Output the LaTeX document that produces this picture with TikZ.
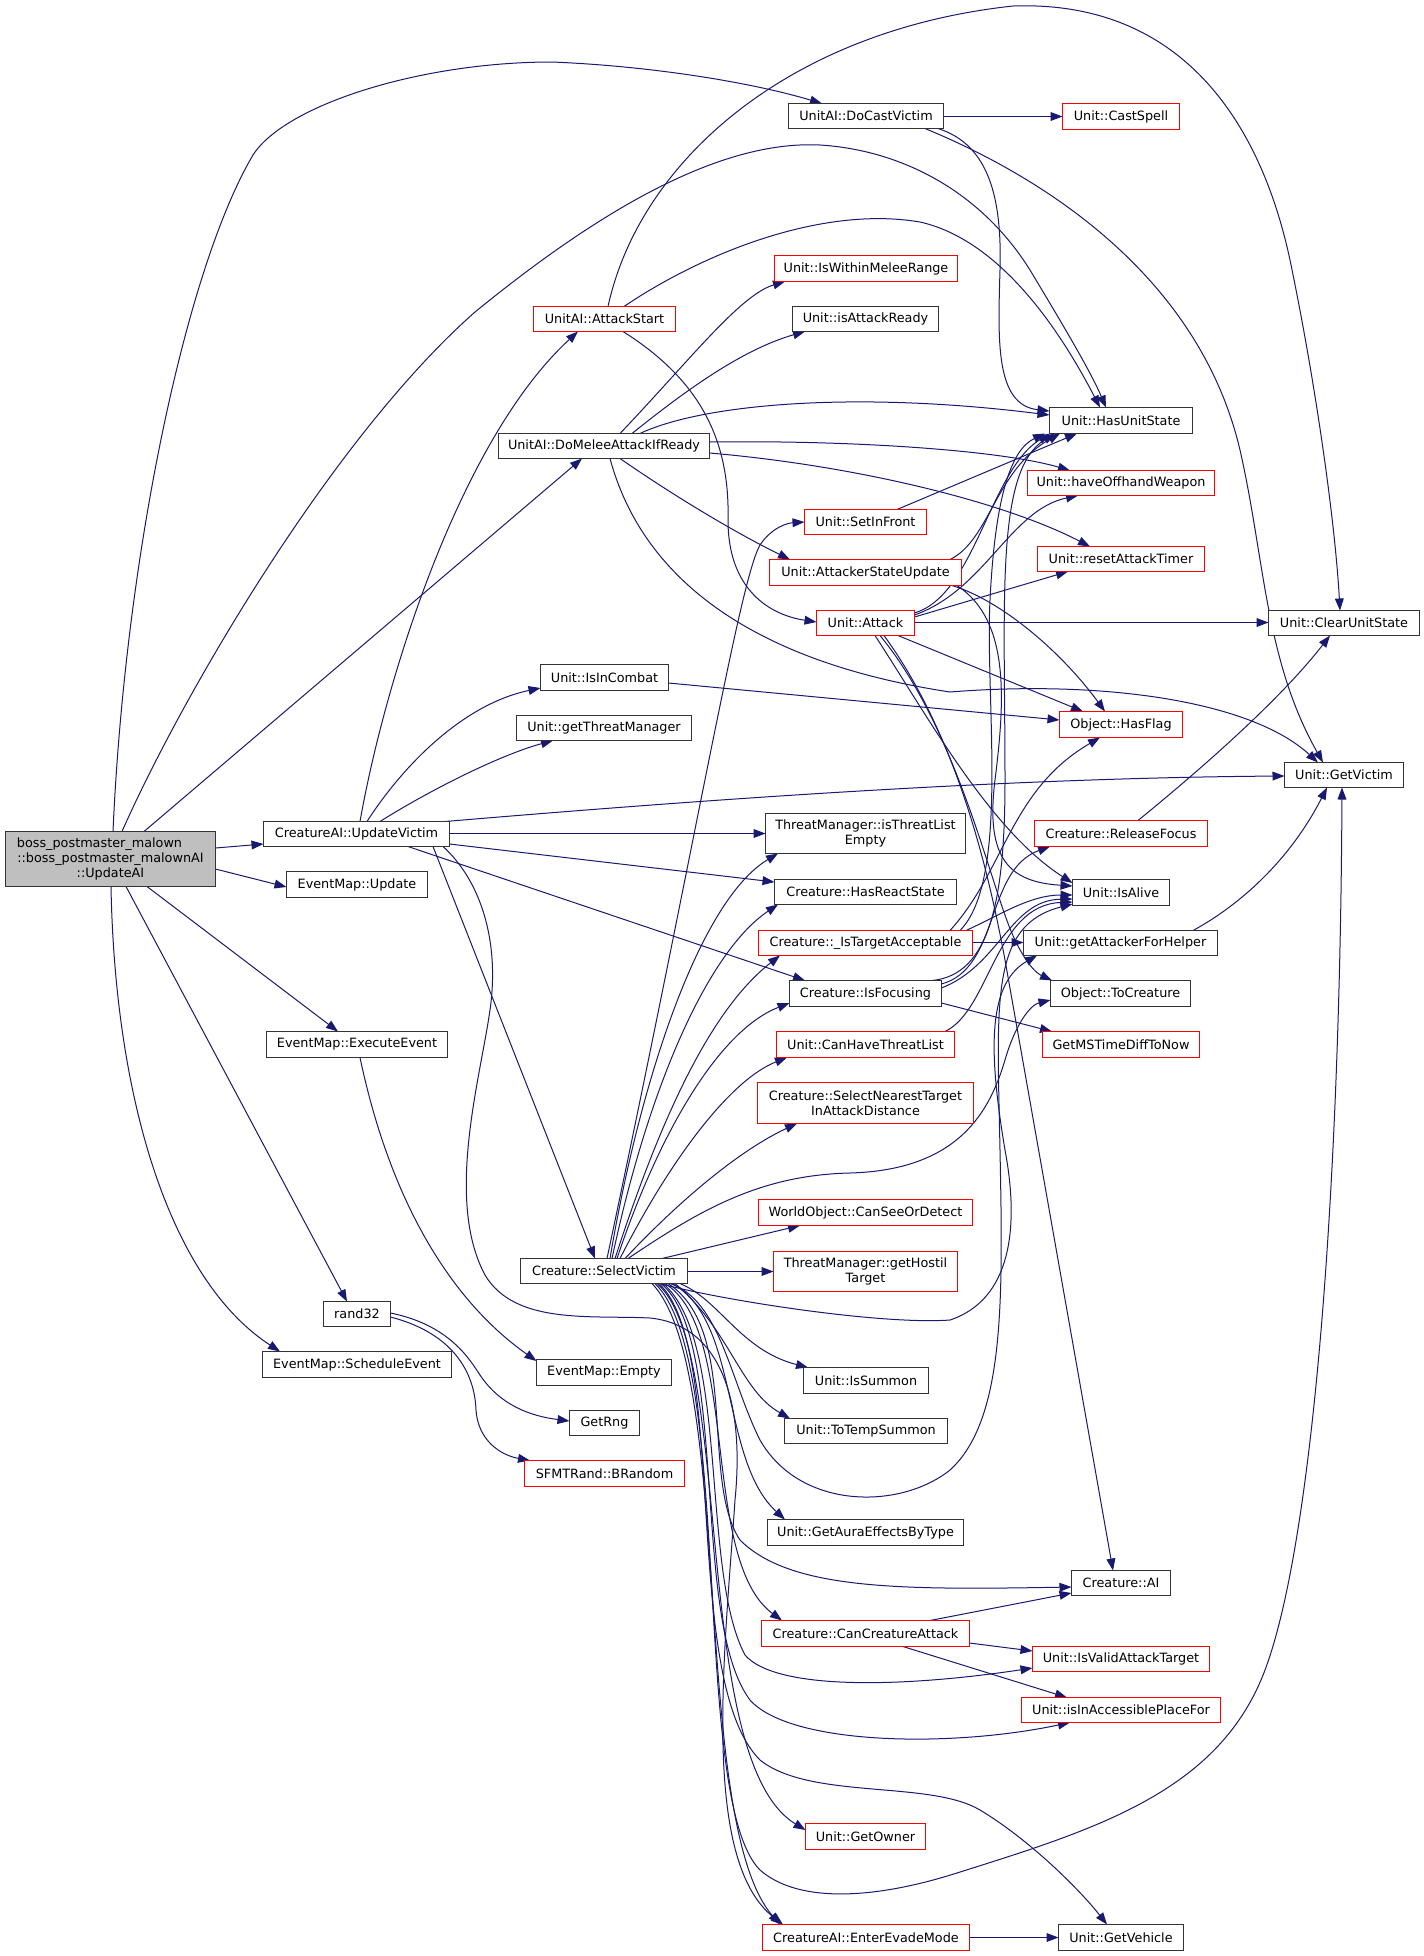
\documentclass[tikz,border=0pt]{standalone}
\usepackage{fontspec}
\newfontfamily\dvs{DejaVu Sans}
\usetikzlibrary{arrows.meta}
\definecolor{edgeblue}{HTML}{191970}
\definecolor{nodeblk}{HTML}{333333}
\definecolor{nodered}{HTML}{FF0000}
\definecolor{mainfill}{HTML}{BFBFBF}
\pgfdeclarelayer{bglayer}
\pgfdeclarelayer{edgelayer}
\pgfsetlayers{bglayer,edgelayer,main}
\tikzset{
  nbox/.style={rectangle, draw, inner sep=0pt, outer sep=0pt, line width=0.55pt, fill=white, align=center, text=black, font={\dvs\fontsize{6.4pt}{7.5pt}\selectfont}},
  blk/.style={nbox, draw=nodeblk},
  trunc/.style={nbox, draw=nodered},
  mainbox/.style={nbox, draw=nodeblk, fill=mainfill},
  conn/.style={draw=edgeblue, line width=0.5pt, -{Triangle[length=6pt,width=4.4pt]}},
}
\newcommand{\mkbox}[7]{\node[#6, minimum width={(#4-#2)*0.5pt}, minimum height={(#5-#3)*0.5pt}] (#1) at ({(#2+#4)/2+0.5},{(#3+#5)/2+0.5}) {#7};}
\begin{document}
\begin{tikzpicture}[x=0.5pt,y=-0.5pt]
\begin{pgfonlayer}{bglayer}
\fill[white] (0,0) rectangle (1424,1956);
\end{pgfonlayer}
\useasboundingbox (0,0) rectangle (1424,1956);
% nodes
\mkbox{main}{5}{831}{215}{886}{mainbox}{boss\_postmaster\_malown\hspace*{11pt}\\::boss\_postmaster\_malownAI\\::UpdateAI}
\mkbox{dcv}{788}{103}{943}{128}{blk}{UnitAI::DoCastVictim}
\mkbox{cast}{1062}{103}{1179}{129}{trunc}{Unit::CastSpell}
\mkbox{ast}{533}{306}{675}{331}{trunc}{UnitAI::AttackStart}
\mkbox{wmr}{774}{255}{957}{281}{trunc}{Unit::IsWithinMeleeRange}
\mkbox{iar}{792}{306}{938}{331}{blk}{Unit::isAttackReady}
\mkbox{hus}{1049}{407}{1192}{433}{blk}{Unit::HasUnitState}
\mkbox{dmar}{498}{433}{709}{458}{blk}{UnitAI::DoMeleeAttackIfReady}
\mkbox{how}{1027}{470}{1214}{495}{trunc}{Unit::haveOffhandWeapon}
\mkbox{sif}{804}{509}{926}{534}{trunc}{Unit::SetInFront}
\mkbox{rat}{1037}{546}{1204}{571}{trunc}{Unit::resetAttackTimer}
\mkbox{asu}{769}{559}{961}{585}{trunc}{Unit::AttackerStateUpdate}
\mkbox{att}{816}{610}{914}{635}{trunc}{Unit::Attack}
\mkbox{cus}{1268}{610}{1419}{635}{blk}{Unit::ClearUnitState}
\mkbox{iic}{540}{664}{668}{690}{blk}{Unit::IsInCombat}
\mkbox{gtm}{516}{715}{691}{740}{blk}{Unit::getThreatManager}
\mkbox{hfl}{1059}{711}{1182}{737}{trunc}{Object::HasFlag}
\mkbox{gvi}{1284}{762}{1403}{787}{blk}{Unit::GetVictim}
\mkbox{uv}{263}{821}{449}{846}{blk}{CreatureAI::UpdateVictim}
\mkbox{rf}{1034}{820}{1207}{846}{trunc}{Creature::ReleaseFocus}
\mkbox{tle}{765}{813}{965}{853}{blk}{ThreatManager::isThreatList\\Empty}
\mkbox{eu}{286}{871}{427}{897}{blk}{EventMap::Update}
\mkbox{hrs}{774}{879}{956}{904}{blk}{Creature::HasReactState}
\mkbox{ial}{1072}{879}{1169}{905}{blk}{Unit::IsAlive}
\mkbox{ita}{758}{930}{972}{955}{trunc}{Creature::\_IsTargetAcceptable}
\mkbox{afh}{1023}{930}{1217}{955}{blk}{Unit::getAttackerForHelper}
\mkbox{ifo}{789}{980}{941}{1006}{blk}{Creature::IsFocusing}
\mkbox{toc}{1050}{980}{1190}{1006}{blk}{Object::ToCreature}
\mkbox{ee}{266}{1031}{447}{1057}{blk}{EventMap::ExecuteEvent}
\mkbox{chtl}{776}{1031}{954}{1057}{trunc}{Unit::CanHaveThreatList}
\mkbox{gms}{1042}{1031}{1199}{1057}{trunc}{GetMSTimeDiffToNow}
\mkbox{snt}{757}{1082}{973}{1123}{trunc}{Creature::SelectNearestTarget\\InAttackDistance}
\mkbox{csd}{758}{1199}{972}{1225}{trunc}{WorldObject::CanSeeOrDetect}
\mkbox{sv}{520}{1258}{687}{1283}{blk}{Creature::SelectVictim}
\mkbox{ght}{773}{1251}{957}{1291}{trunc}{ThreatManager::getHostil\\Target}
\mkbox{r32}{323}{1301}{390}{1326}{blk}{rand32}
\mkbox{sch}{262}{1351}{451}{1377}{blk}{EventMap::ScheduleEvent}
\mkbox{emp}{536}{1359}{671}{1385}{blk}{EventMap::Empty}
\mkbox{isu}{803}{1367}{928}{1393}{blk}{Unit::IsSummon}
\mkbox{grng}{569}{1410}{639}{1435}{blk}{GetRng}
\mkbox{tts}{784}{1418}{947}{1443}{blk}{Unit::ToTempSummon}
\mkbox{sfmt}{524}{1460}{684}{1486}{trunc}{SFMTRand::BRandom}
\mkbox{gae}{767}{1519}{963}{1545}{blk}{Unit::GetAuraEffectsByType}
\mkbox{cai}{1071}{1570}{1170}{1595}{blk}{Creature::AI}
\mkbox{cca}{761}{1620}{969}{1646}{trunc}{Creature::CanCreatureAttack}
\mkbox{ivat}{1032}{1646}{1209}{1671}{trunc}{Unit::IsValidAttackTarget}
\mkbox{iapf}{1021}{1697}{1220}{1722}{trunc}{Unit::isInAccessiblePlaceFor}
\mkbox{gow}{805}{1823}{925}{1849}{trunc}{Unit::GetOwner}
\mkbox{eem}{762}{1924}{969}{1950}{trunc}{CreatureAI::EnterEvadeMode}
\mkbox{gveh}{1058}{1924}{1183}{1950}{blk}{Unit::GetVehicle}
% edges
\begin{pgfonlayer}{edgelayer}
% main
\draw[conn] (main.north -| 113,0) .. controls (125,560) and (185,270) .. (253,155) .. controls (285,105) and (420,62) .. (552,62) .. controls (650,66) and (750,82) .. (dcv.north -| 822,0);
\draw[conn] (main.north -| 122,0) .. controls (180,700) and (330,440) .. (475,312) .. controls (600,210) and (720,140) .. (820,145) .. controls (900,150) and (980,190) .. (1030,270) .. controls (1060,320) and (1090,370) .. (hus.north -| 1106,0);
\draw[conn] (main.north -| 144,0) -- (dmar.south -| 582,0);
\draw[conn] (main.east |- 0,848) -- (uv.west |- 0,844);
\draw[conn] (main.east |- 0,869) -- (eu.west |- 0,887);
\draw[conn] (main.south -| 147,0) -- (ee.north -| 338,0);
\draw[conn] (main.south -| 126,0) -- (r32.north -| 347,0);
\draw[conn] (main.south -| 111,0) .. controls (115,1100) and (170,1280) .. (sch.north -| 280,0);
% UpdateVictim
\draw[conn] (uv.north -| 360,0) .. controls (385,680) and (460,440) .. (ast.south -| 578,0);
\draw[conn] (uv.north -| 367,0) .. controls (400,770) and (460,705) .. (iic.west |- 0,688);
\draw[conn] (uv.north -| 380,0) .. controls (430,790) and (500,755) .. (gtm.south -| 553,0);
\draw[conn] (uv.north -| 445,0) .. controls (700,800) and (1000,778) .. (gvi.west |- 0,776);
\draw[conn] (uv.east |- 0,833.5) -- (tle.west |- 0,833.5);
\draw[conn] (uv.east |- 0,844) -- (hrs.west |- 0,882);
\draw[conn] (uv.south -| 408,0) -- (ifo.north -| 805,0);
\draw[conn] (uv.south -| 433,0) -- (sv.north -| 595,0);
\draw[conn] (uv.south -| 443,0) .. controls (480,880) and (500,940) .. (490,1010) .. controls (480,1080) and (445,1200) .. (485,1275) .. controls (515,1325) and (590,1315) .. (650,1318) .. controls (720,1325) and (745,1400) .. (735,1500) .. controls (725,1650) and (700,1860) .. (eem.north -| 783,0);
% DoCastVictim
\draw[conn] (dcv.east |- 0,116.5) -- (cast.west |- 0,116.5);
\draw[conn] (dcv.south -| 938,0) .. controls (990,145) and (1002,200) .. (1000,270) .. controls (998,340) and (995,405) .. (hus.west |- 0,411);
\draw[conn] (dcv.south -| 925,0) .. controls (1050,180) and (1200,280) .. (1240,450) .. controls (1265,560) and (1265,660) .. (gvi.north -| 1323,0);
% AttackStart
\draw[conn] (ast.north -| 608,0) .. controls (640,160) and (790,30) .. (1013,6) .. controls (1180,0) and (1260,120) .. (1290,260) .. controls (1315,380) and (1335,520) .. (cus.north -| 1340,0);
\draw[conn] (ast.north -| 624,0) .. controls (700,255) and (820,205) .. (920,222) .. controls (1000,240) and (1060,330) .. (hus.north -| 1100,0);
\draw[conn] (ast.south -| 623,0) .. controls (700,380) and (730,440) .. (728,520) .. controls (728,590) and (770,615) .. (att.west |- 0,622);
% DoMeleeAttackIfReady
\draw[conn] (dmar.north -| 620,0) .. controls (690,360) and (740,295) .. (wmr.south -| 785,0);
\draw[conn] (dmar.north -| 632,0) .. controls (680,395) and (740,350) .. (iar.south -| 805,0);
\draw[conn] (dmar.north -| 640,0) .. controls (700,405) and (850,390) .. (hus.west |- 0,415);
\draw[conn] (dmar.east |- 0,442) .. controls (850,440) and (1000,450) .. (how.north -| 1070,0);
\draw[conn] (dmar.east |- 0,453) .. controls (850,465) and (1000,500) .. (rat.north -| 1090,0);
\draw[conn] (dmar.south -| 620,0) .. controls (680,500) and (740,535) .. (asu.north -| 790,0);
\draw[conn] (dmar.south -| 610,0) .. controls (640,570) and (740,660) .. (950,692) .. controls (1100,680) and (1250,700) .. (gvi.north -| 1318,0);
% SetInFront
\draw[conn] (sif.north -| 897,0) -- (hus.south -| 1077,0);
% AttackerStateUpdate
\draw[conn] (asu.north -| 950,0) .. controls (990,540) and (995,470) .. (hus.south -| 1060,0);
\draw[conn] (asu.south -| 952,0) .. controls (1000,600) and (1060,650) .. (hfl.north -| 1105,0);
\draw[conn] (asu.south -| 957,0) .. controls (1010,620) and (1005,700) .. (995,780) .. controls (985,860) and (1010,882) .. (ial.west |- 0,886);
% Attack
\draw[conn] (att.east |- 0,613) .. controls (975,595) and (990,470) .. (hus.south -| 1050,0);
\draw[conn] (att.east |- 0,615) .. controls (985,590) and (1010,510) .. (how.south -| 1078,0);
\draw[conn] (att.east |- 0,617) -- (rat.south -| 1068,0);
\draw[conn] (att.east |- 0,622.5) -- (cus.west |- 0,622.5);
\draw[conn] (att.south -| 898,0) -- (hfl.north -| 1083,0);
\draw[conn] (att.south -| 875,0) .. controls (930,720) and (990,830) .. (ial.west |- 0,883);
\draw[conn] (att.south -| 880,0) .. controls (950,720) and (985,860) .. (1005,915) .. controls (1015,945) and (1030,970) .. (toc.north -| 1052,0);
\draw[conn] (att.south -| 884,0) .. controls (960,740) and (990,880) .. (1005,960) -- (cai.north -| 1113,0);
% IsInCombat
\draw[conn] (iic.east |- 0,683) -- (hfl.west |- 0,720);
% _IsTargetAcceptable
\draw[conn] (ita.north -| 960,0) .. controls (1010,880) and (985,700) .. (990,600) .. controls (995,500) and (1010,450) .. (hus.south -| 1045,0);
\draw[conn] (ita.north -| 950,0) .. controls (1005,870) and (1010,790) .. (hfl.south -| 1100,0);
\draw[conn] (ita.north -| 966,0) .. controls (1000,915) and (1030,895) .. (ial.west |- 0,895);
\draw[conn] (ita.east |- 0,942.5) -- (afh.west |- 0,942.5);
% IsFocusing
\draw[conn] (ifo.north -| 932,0) .. controls (990,975) and (1005,900) .. (1005,780) .. controls (1005,600) and (995,470) .. (hus.south -| 1055,0);
\draw[conn] (ifo.east |- 0,984) .. controls (1000,968) and (985,870) .. (rf.south -| 1050,0);
\draw[conn] (ifo.east |- 0,988) .. controls (1000,965) and (1010,900) .. (ial.west |- 0,899);
\draw[conn] (ifo.east |- 0,1003) -- (gms.north -| 1052,0);
% others
\draw[conn] (afh.north -| 1193,0) .. controls (1240,905) and (1290,860) .. (gvi.south -| 1327,0);
\draw[conn] (rf.north -| 1138,0) .. controls (1200,770) and (1280,700) .. (cus.south -| 1330,0);
\draw[conn] (chtl.north -| 945,0) .. controls (990,1010) and (995,905) .. (ial.west |- 0,902);
% SelectVictim upward
\draw[conn] (sv.north -| 607,0) .. controls (700,820) and (740,580) .. (760,545) .. controls (772,527) and (788,523) .. (sif.west |- 0,522);
\draw[conn] (sv.north -| 610,0) .. controls (640,1080) and (700,900) .. (tle.south -| 778,0);
\draw[conn] (sv.north -| 612,0) .. controls (650,1080) and (710,950) .. (hrs.south -| 778,0);
\draw[conn] (sv.north -| 615,0) .. controls (660,1120) and (710,1010) .. (ita.south -| 780,0);
\draw[conn] (sv.north -| 617,0) .. controls (660,1130) and (720,1030) .. (ifo.west |- 0,1003);
\draw[conn] (sv.north -| 620,0) .. controls (670,1160) and (730,1080) .. (chtl.south -| 787,0);
\draw[conn] (sv.north -| 625,0) .. controls (680,1200) and (740,1150) .. (snt.south -| 797,0);
\draw[conn] (sv.north -| 628,0) .. controls (700,1210) and (760,1175) .. (850,1173) .. controls (960,1170) and (990,1110) .. (1005,1060) .. controls (1015,1025) and (1030,1005) .. (toc.west |- 0,1000);
\draw[conn] (sv.north -| 662,0) -- (csd.south -| 800,0);
\draw[conn] (sv.east |- 0,1271.5) -- (ght.west |- 0,1271.5);
% SelectVictim downward
\draw[conn] (sv.south -| 660,0) .. controls (720,1300) and (880,1325) .. (950,1320) .. controls (1010,1300) and (1020,1230) .. (1005,1150) .. controls (990,1060) and (985,985) .. (afh.south -| 1037,0);
\draw[conn] (sv.south -| 670,0) .. controls (720,1300) and (730,1380) .. (760,1440) .. controls (800,1510) and (900,1510) .. (950,1470) .. controls (1005,1420) and (1003,1300) .. (1000,1150) .. controls (997,1000) and (990,925) .. (ial.west |- 0,904);
\draw[conn] (sv.south -| 680,0) .. controls (720,1300) and (740,1350) .. (isu.north -| 808,0);
\draw[conn] (sv.south -| 675,0) .. controls (730,1330) and (740,1390) .. (tts.north -| 790,0);
\draw[conn] (sv.south -| 672,0) .. controls (740,1320) and (720,1460) .. (gae.north -| 785,0);
\draw[conn] (sv.south -| 668,0) .. controls (740,1330) and (700,1480) .. (740,1540) .. controls (790,1590) and (900,1590) .. (cai.west |- 0,1587);
\draw[conn] (sv.south -| 665,0) .. controls (740,1330) and (700,1560) .. (cca.north -| 782,0);
\draw[conn] (sv.south -| 663,0) .. controls (730,1340) and (700,1570) .. (745,1655) .. controls (775,1690) and (900,1688) .. (ivat.west |- 0,1668);
\draw[conn] (sv.south -| 661,0) .. controls (730,1340) and (690,1620) .. (750,1700) .. controls (790,1745) and (950,1748) .. (iapf.south -| 1070,0);
\draw[conn] (sv.south -| 659,0) .. controls (730,1350) and (680,1680) .. (760,1760) .. controls (810,1800) and (930,1780) .. (980,1810) .. controls (1030,1840) and (1080,1890) .. (gveh.north -| 1107,0);
\draw[conn] (sv.south -| 657,0) .. controls (735,1350) and (690,1760) .. (gow.west |- 0,1830);
\draw[conn] (sv.south -| 655,0) .. controls (735,1360) and (690,1800) .. (760,1870) .. controls (800,1905) and (880,1898) .. (960,1872) .. controls (1100,1828) and (1220,1790) .. (1265,1670) .. controls (1312,1545) and (1340,1200) .. (gvi.south -| 1342,0);
\draw[conn] (sv.south -| 652,0) .. controls (735,1370) and (690,1820) .. (eem.north -| 780,0);
% CanCreatureAttack
\draw[conn] (cca.north -| 930,0) -- (cai.west |- 0,1593);
\draw[conn] (cca.east |- 0,1643) -- (ivat.west |- 0,1651);
\draw[conn] (cca.south -| 903,0) -- (iapf.north -| 1067,0);
% EnterEvadeMode
\draw[conn] (eem.east |- 0,1937.5) -- (gveh.west |- 0,1937.5);
% ExecuteEvent, rand32
\draw[conn] (ee.south -| 360,0) .. controls (390,1200) and (450,1300) .. (emp.west |- 0,1361);
\draw[conn] (r32.east |- 0,1313) .. controls (450,1325) and (470,1360) .. (480,1375) .. controls (500,1405) and (530,1416) .. (grng.west |- 0,1421);
\draw[conn] (r32.east |- 0,1317) .. controls (460,1335) and (475,1380) .. (476,1410) .. controls (478,1440) and (500,1455) .. (sfmt.north -| 530,0);
\end{pgfonlayer}
\end{tikzpicture}
\end{document}
